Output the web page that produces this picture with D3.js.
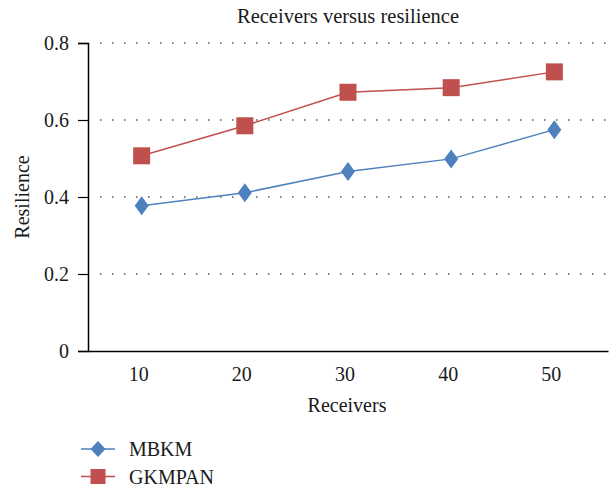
<!DOCTYPE html>
<html>
<head>
<meta charset="utf-8">
<script src="https://cdn.jsdelivr.net/npm/d3@7"></script>
<style>
  html, body { margin: 0; padding: 0; background: #fff; }
  svg { display: block; }
  text { font-family: "Liberation Serif", "DejaVu Serif", serif; fill: #1a1a1a; }
</style>
</head>
<body>
<svg id="chart" width="612" height="487"></svg>
<script>
// Receivers (x categories) and resilience per algorithm
const receivers = ["10", "20", "30", "40", "50"];
const mbkm = [0.377, 0.411, 0.466, 0.499, 0.575];
const gkmpan = [0.507, 0.585, 0.672, 0.684, 0.725];
const yTicks = [0, 0.2, 0.4, 0.6, 0.8];
const seriesNames = ["MBKM", "GKMPAN"];
const seriesColors = ["#4F81BD", "#C0504D"];

const svg = d3.select("#chart");
const margin = { left: 88, right: 4, top: 43, bottom: 136 };
const W = 612, H = 487;
const plotW = W - margin.left - margin.right;
const plotH = H - margin.top - margin.bottom;
const fontSize = "20px";

const x = d3.scaleBand().domain(receivers).range([0, plotW]).paddingInner(0).paddingOuter(0.02);
const y = d3.scaleLinear().domain([0, 0.8]).range([plotH, 0]);

const g = svg.append("g").attr("transform", `translate(${margin.left},${margin.top})`);

// Title
svg.append("text")
  .attr("x", margin.left + plotW / 2).attr("y", 23)
  .attr("text-anchor", "middle").style("font-size", "20.5px")
  .text("Receivers versus resilience");

// Dotted horizontal gridlines
g.append("g").selectAll("line")
  .data(yTicks.filter(d => d > 0))
  .join("line")
  .attr("x1", 12).attr("x2", plotW)
  .attr("y1", d => y(d)).attr("y2", d => y(d))
  .attr("stroke", "#555").attr("stroke-width", 1.6)
  .attr("stroke-dasharray", "1.5,10.5");

// Y axis
const yAxis = g.append("g")
  .call(d3.axisLeft(y).tickValues(yTicks).tickFormat(d => d === 0 ? "0" : d3.format(".1f")(d)).tickSize(10).tickPadding(9));
yAxis.select(".domain").attr("stroke", "#000").attr("stroke-width", 1.5);
yAxis.selectAll(".tick line").attr("stroke", "#000").attr("stroke-width", 1.2);
yAxis.selectAll(".tick text").style("font-size", fontSize).style("font-family", "'Liberation Serif', serif").attr("fill", "#1a1a1a");

// X axis
const xAxis = g.append("g").attr("transform", `translate(0,${plotH})`)
  .call(d3.axisBottom(x).tickSize(0).tickPadding(16));
xAxis.select(".domain").attr("stroke", "#000").attr("stroke-width", 1.5);
xAxis.selectAll(".tick text").attr("dx", -3).style("font-size", fontSize).style("font-family", "'Liberation Serif', serif").attr("fill", "#1a1a1a");

// Axis titles
svg.append("text")
  .attr("x", margin.left + plotW / 2 - 1).attr("y", 412)
  .attr("text-anchor", "middle").style("font-size", fontSize)
  .text("Receivers");
svg.append("text")
  .attr("transform", `translate(29,${margin.top + y(0.4)}) rotate(-90)`)
  .attr("text-anchor", "middle").style("font-size", fontSize)
  .text("Resilience");

const cx = d => x(d) + x.bandwidth() / 2;
const data = [mbkm, gkmpan];
const diamond = "M0,-9.5L7,0L0,9.5L-7,0Z";
const square = "M-8.5,-8.5H8.5V8.5H-8.5Z";
const shapes = [diamond, square];

data.forEach((vals, i) => {
  const pts = receivers.map((r, k) => [cx(r), y(vals[k])]);
  g.append("path")
    .attr("d", d3.line()(pts))
    .attr("fill", "none").attr("stroke", seriesColors[i]).attr("stroke-width", 1.5);
  g.append("g").selectAll("path")
    .data(pts).join("path")
    .attr("transform", d => `translate(${d[0]},${d[1]})`)
    .attr("d", shapes[i]).attr("fill", seriesColors[i]);
});

// Legend
const legend = svg.append("g").attr("transform", "translate(81,449)");
const legendShapes = ["M0,-8L7.5,0L0,8L-7.5,0Z", "M-7.5,-7.5H7.5V7.5H-7.5Z"];
seriesNames.forEach((name, i) => {
  const row = legend.append("g").attr("transform", `translate(0,${i * 27.5})`);
  row.append("line").attr("x1", 0).attr("x2", 34).attr("y1", 0).attr("y2", 0)
    .attr("stroke", seriesColors[i]).attr("stroke-width", 1.5);
  row.append("path").attr("transform", "translate(17,0)").attr("d", legendShapes[i]).attr("fill", seriesColors[i]);
  row.append("text").attr("x", 48).attr("y", 7).style("font-size", fontSize).text(name);
});
</script>
</body>
</html>
